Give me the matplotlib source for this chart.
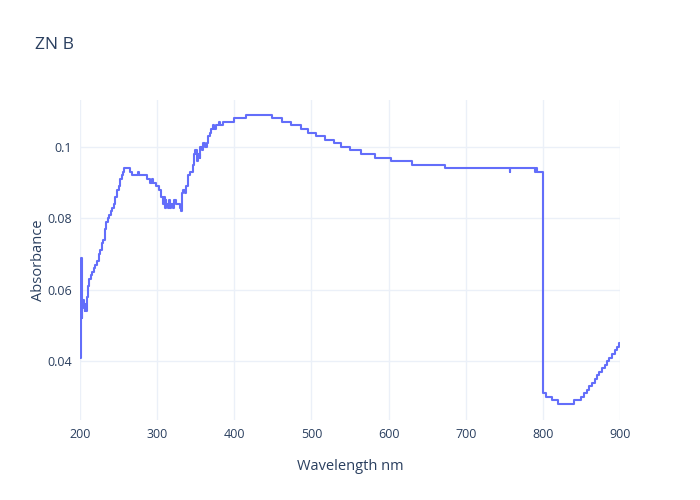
import matplotlib.pyplot as plt
import numpy as np

plt.rcParams['font.family'] = ['Open Sans', 'DejaVu Sans']

# breakpoints: wavelength where a new absorbance value starts
wavelength = [200, 201, 202, 203, 204, 205, 206, 207, 208, 209,
              210, 212, 214, 216, 218, 220, 222, 224, 226, 228,
              230, 232, 234, 236, 238, 240, 242, 244, 246, 248,
              250, 252, 254, 256, 257, 265, 268, 275, 276, 287,
              291, 293, 294, 298, 303, 305, 307, 308, 309, 310,
              311, 312, 314, 315, 317, 318, 320, 322, 324, 330,
              331, 332, 334, 336, 338, 340, 342, 346, 348, 349,
              350, 351, 352, 353, 355, 356, 358, 360, 362, 364,
              366, 368, 370, 372, 374, 376, 380, 381, 385, 399,
              415, 449, 462, 473, 486, 495, 506, 517, 529, 538,
              550, 564, 582, 603, 631, 673, 757, 758, 790, 791,
              792, 800.5, 804, 812, 820, 841, 849, 853, 857,
              860, 864, 867, 870, 873, 877, 880, 883, 886, 890,
              893, 896, 899, 900]
absorbance = [0.041, 0.069, 0.052, 0.056, 0.057, 0.055, 0.054, 0.056, 0.054, 0.058,
              0.061, 0.063, 0.064, 0.065, 0.066, 0.067, 0.068, 0.070, 0.071, 0.073,
              0.074, 0.077, 0.079, 0.080, 0.081, 0.082, 0.083, 0.084, 0.086, 0.088,
              0.089, 0.091, 0.092, 0.093, 0.094, 0.093, 0.092, 0.093, 0.092, 0.091,
              0.090, 0.091, 0.090, 0.089, 0.088, 0.086, 0.085, 0.084, 0.086, 0.083,
              0.085, 0.084, 0.083, 0.085, 0.083, 0.084, 0.083, 0.085, 0.084, 0.083,
              0.082, 0.087, 0.088, 0.087, 0.089, 0.092, 0.093, 0.095, 0.098, 0.099,
              0.098, 0.099, 0.096, 0.098, 0.097, 0.100, 0.099, 0.101, 0.100, 0.101,
              0.103, 0.104, 0.105, 0.106, 0.105, 0.106, 0.107, 0.106, 0.107, 0.108,
              0.109, 0.108, 0.107, 0.106, 0.105, 0.104, 0.103, 0.102, 0.101, 0.100,
              0.099, 0.098, 0.097, 0.096, 0.095, 0.094, 0.093, 0.094, 0.093, 0.094,
              0.093, 0.031, 0.030, 0.029, 0.028, 0.029, 0.030, 0.031, 0.032,
              0.033, 0.034, 0.035, 0.036, 0.037, 0.038, 0.039, 0.040, 0.041, 0.042,
              0.043, 0.044, 0.045, 0.045]

x_ticks = [200, 300, 400, 500, 600, 700, 800, 900]
y_ticks = [0.04, 0.06, 0.08, 0.1]
y_tick_labels = ['0.04', '0.06', '0.08', '0.1']

text_color = '#2a3f5f'
grid_color = '#ebf0f8'

fig = plt.figure(figsize=(7, 5), dpi=100)
ax = fig.add_axes([80/700, 80/500, 540/700, 320/500])

ax.plot(wavelength, absorbance, drawstyle='steps-post', color='#636efa', linewidth=1.5)

ax.set_xlim(200, 900)
ax.set_ylim(0.0235, 0.1131)
ax.set_xticks(x_ticks)
ax.set_yticks(y_ticks)
ax.set_yticklabels(y_tick_labels)
ax.tick_params(length=0, labelsize=9, labelcolor=text_color, pad=6)
ax.grid(True, color=grid_color, linewidth=1)
ax.set_axisbelow(True)
for s in ax.spines.values():
    s.set_visible(False)

fig.text(35/700, 1 - 45/500, 'ZN B', fontsize=12.6, color=text_color, va='center', ha='left')
fig.text(350/700, 1 - 467/500, 'Wavelength nm', fontsize=10.5, color=text_color, ha='center', va='center')
fig.text(38/700, 1 - 260/500, 'Absorbance', fontsize=10.5, color=text_color, ha='center', va='center', rotation=90)

fig.savefig('out.png', dpi=100)
